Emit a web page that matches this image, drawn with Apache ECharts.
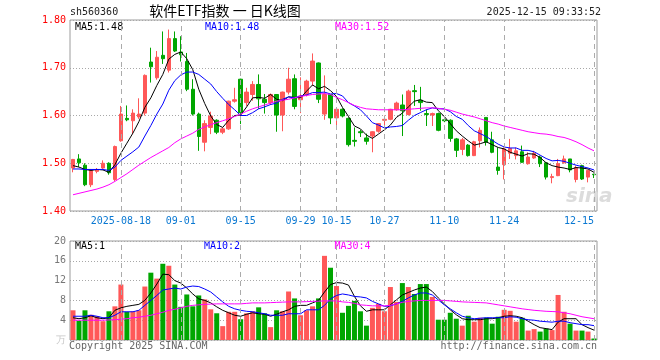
<!DOCTYPE html>
<html><head><meta charset="utf-8">
<script src="https://cdn.jsdelivr.net/npm/echarts@6/dist/echarts.min.js"></script>
<style>html,body{margin:0;padding:0;background:#fff}#c{width:660px;height:360px}</style>
</head><body><div id="c"></div>
<script>
// ---------- data ----------
const dates = [
'2025-08-06','2025-08-07','2025-08-08','2025-08-11','2025-08-12','2025-08-13','2025-08-14','2025-08-15','2025-08-18','2025-08-19',
'2025-08-20','2025-08-21','2025-08-22','2025-08-25','2025-08-26','2025-08-27','2025-08-28','2025-08-29','2025-09-01','2025-09-02',
'2025-09-03','2025-09-04','2025-09-05','2025-09-08','2025-09-09','2025-09-10','2025-09-11','2025-09-12','2025-09-15','2025-09-16',
'2025-09-17','2025-09-18','2025-09-19','2025-09-22','2025-09-23','2025-09-24','2025-09-25','2025-09-26','2025-09-29','2025-09-30',
'2025-10-09','2025-10-10','2025-10-13','2025-10-14','2025-10-15','2025-10-16','2025-10-17','2025-10-20','2025-10-21','2025-10-22',
'2025-10-23','2025-10-24','2025-10-27','2025-10-28','2025-10-29','2025-10-30','2025-10-31','2025-11-03','2025-11-04','2025-11-05',
'2025-11-06','2025-11-07','2025-11-10','2025-11-11','2025-11-12','2025-11-13','2025-11-14','2025-11-17','2025-11-18','2025-11-19',
'2025-11-20','2025-11-21','2025-11-24','2025-11-25','2025-11-26','2025-11-27','2025-11-28','2025-12-01','2025-12-02','2025-12-03',
'2025-12-04','2025-12-05','2025-12-08','2025-12-09','2025-12-10','2025-12-11','2025-12-12','2025-12-15'];

const opens = [
1.490,1.509,1.496,1.455,1.483,1.490,1.500,1.466,1.547,1.594,
1.589,1.597,1.605,1.712,1.679,1.726,1.695,1.761,1.733,1.713,
1.655,1.603,1.544,1.575,1.590,1.565,1.572,1.630,1.676,1.627,
1.644,1.665,1.634,1.627,1.644,1.601,1.649,1.677,1.633,1.644,
1.672,1.710,1.603,1.644,1.595,1.613,1.594,1.548,1.566,1.553,
1.557,1.567,1.590,1.592,1.612,1.622,1.602,1.652,1.632,1.604,
1.601,1.604,1.591,1.590,1.551,1.529,1.538,1.516,1.547,1.596,
1.549,1.492,1.497,1.521,1.516,1.524,1.499,1.511,1.513,1.501,
1.470,1.474,1.501,1.509,1.466,1.495,1.471,1.477];
const closes = [
1.508,1.501,1.455,1.485,1.487,1.500,1.480,1.535,1.603,1.591,
1.605,1.603,1.684,1.702,1.722,1.719,1.761,1.735,1.727,1.655,
1.603,1.556,1.583,1.599,1.565,1.572,1.630,1.633,1.606,1.649,
1.665,1.635,1.627,1.644,1.601,1.649,1.676,1.619,1.641,1.672,
1.714,1.634,1.644,1.595,1.613,1.599,1.539,1.546,1.564,1.546,
1.566,1.583,1.592,1.613,1.626,1.610,1.651,1.650,1.627,1.602,
1.604,1.569,1.589,1.552,1.527,1.549,1.516,1.545,1.569,1.544,
1.523,1.485,1.530,1.531,1.526,1.502,1.513,1.521,1.499,1.471,
1.472,1.499,1.509,1.486,1.491,1.467,1.485,1.476];
const highs = [
1.509,1.519,1.500,1.488,1.490,1.506,1.502,1.537,1.620,1.621,
1.613,1.636,1.686,1.742,1.735,1.776,1.780,1.776,1.766,1.731,
1.676,1.606,1.590,1.608,1.592,1.575,1.631,1.658,1.677,1.658,
1.672,1.686,1.645,1.646,1.645,1.650,1.700,1.686,1.680,1.675,
1.730,1.711,1.684,1.645,1.615,1.615,1.596,1.575,1.570,1.562,
1.567,1.584,1.600,1.614,1.629,1.644,1.654,1.664,1.660,1.613,
1.606,1.606,1.594,1.592,1.553,1.553,1.540,1.547,1.575,1.596,
1.566,1.533,1.533,1.551,1.533,1.537,1.523,1.526,1.516,1.501,
1.478,1.509,1.516,1.509,1.495,1.497,1.486,1.478];
const lows = [
1.481,1.492,1.452,1.450,1.479,1.488,1.476,1.462,1.545,1.588,
1.561,1.593,1.600,1.669,1.675,1.708,1.690,1.733,1.713,1.651,
1.600,1.526,1.525,1.561,1.561,1.561,1.570,1.627,1.582,1.620,
1.631,1.614,1.604,1.622,1.566,1.567,1.644,1.613,1.605,1.640,
1.662,1.626,1.591,1.582,1.573,1.596,1.535,1.535,1.555,1.539,
1.523,1.564,1.575,1.590,1.610,1.557,1.600,1.620,1.610,1.578,
1.578,1.567,1.586,1.545,1.513,1.517,1.514,1.515,1.533,1.537,
1.521,1.476,1.466,1.509,1.508,1.501,1.497,1.509,1.492,1.466,
1.458,1.473,1.499,1.481,1.460,1.465,1.460,1.469];

const ma5 = [
1.495,1.492,1.487,1.485,1.487,1.486,1.481,1.497,1.521,1.542,
1.563,1.587,1.617,1.637,1.663,1.686,1.718,1.728,1.733,1.719,
1.696,1.655,1.625,1.599,1.581,1.575,1.590,1.600,1.601,1.618,
1.637,1.638,1.636,1.644,1.634,1.631,1.639,1.638,1.637,1.651,
1.664,1.656,1.661,1.652,1.640,1.617,1.598,1.578,1.572,1.559,
1.552,1.561,1.570,1.580,1.596,1.605,1.618,1.630,1.633,1.628,
1.627,1.610,1.598,1.583,1.568,1.557,1.547,1.538,1.541,1.545,
1.539,1.533,1.530,1.523,1.519,1.515,1.520,1.519,1.512,1.501,
1.495,1.492,1.490,1.487,1.491,1.490,1.488,1.481];
const ma10 = [
1.488,1.488,1.487,1.487,1.487,1.487,1.485,1.492,1.506,1.515,
1.524,1.534,1.557,1.579,1.603,1.624,1.653,1.673,1.685,1.691,
1.691,1.686,1.676,1.666,1.650,1.636,1.623,1.612,1.600,1.600,
1.606,1.614,1.618,1.623,1.626,1.634,1.639,1.637,1.641,1.643,
1.648,1.648,1.649,1.645,1.646,1.641,1.627,1.620,1.612,1.599,
1.585,1.580,1.574,1.576,1.577,1.579,1.590,1.600,1.606,1.612,
1.616,1.614,1.614,1.608,1.598,1.592,1.579,1.568,1.562,1.556,
1.548,1.540,1.534,1.532,1.532,1.527,1.527,1.524,1.517,1.510,
1.505,1.506,1.504,1.500,1.496,1.493,1.490,1.486];
const ma30 = [
1.434,1.437,1.440,1.443,1.446,1.450,1.455,1.462,1.470,1.478,
1.487,1.496,1.504,1.512,1.519,1.526,1.533,1.543,1.551,1.557,
1.563,1.571,1.576,1.581,1.585,1.589,1.593,1.598,1.603,1.609,
1.614,1.618,1.622,1.626,1.630,1.632,1.634,1.637,1.640,1.642,
1.644,1.645,1.646,1.644,1.638,1.633,1.627,1.621,1.617,1.614,
1.613,1.612,1.612,1.612,1.612,1.612,1.613,1.614,1.615,1.616,
1.616,1.615,1.613,1.611,1.607,1.603,1.600,1.597,1.593,1.589,
1.585,1.582,1.578,1.575,1.572,1.569,1.566,1.564,1.562,1.561,
1.559,1.556,1.554,1.550,1.545,1.539,1.532,1.526];

const volumes = [
6.0,3.9,6.0,5.1,4.8,3.8,5.8,6.8,11.2,5.7,
5.8,6.0,10.8,13.6,12.4,15.4,15.0,11.2,6.7,9.2,
6.8,9.0,8.2,6.2,5.4,2.8,5.7,5.7,4.2,5.4,
5.8,6.6,5.4,2.6,6.0,5.8,9.8,8.4,5.0,6.0,
6.8,8.4,17.0,14.6,10.9,5.5,6.9,7.9,5.8,2.9,
6.5,7.3,5.8,10.7,7.7,11.5,10.7,9.3,11.3,11.3,
8.7,4.1,4.1,5.5,4.3,2.9,4.9,3.7,4.5,4.5,
3.3,4.7,6.1,5.9,3.7,4.5,1.9,2.2,1.7,2.3,
2.0,9.1,5.7,3.3,1.9,1.9,1.7,0.3];
const volMa5 = [
4.5,4.3,4.5,4.9,4.5,4.3,4.5,6.0,6.5,6.8,
7.0,7.2,8.0,9.5,11.3,13.3,13.2,12.0,11.5,10.5,
9.3,8.3,8.0,7.5,6.7,6.0,5.5,5.0,4.8,5.2,
5.5,5.3,5.2,4.8,5.2,5.7,6.1,6.8,7.0,7.0,
7.5,8.0,9.7,11.2,11.6,11.5,11.1,8.8,6.9,5.8,
6.1,6.1,6.1,7.1,8.1,9.1,9.6,10.1,10.5,10.7,
9.8,8.5,7.3,6.1,5.1,4.3,4.1,4.1,4.1,4.3,
4.3,4.5,4.8,4.9,4.8,4.5,3.8,3.1,2.5,2.3,
2.1,3.6,4.3,4.3,4.3,3.1,2.5,2.0];
const volMa10 = [
4.8,4.8,4.8,5.0,4.8,4.5,4.5,5.0,5.7,5.7,
5.7,6.0,7.0,8.0,9.0,10.1,10.3,10.5,10.3,10.7,
10.9,10.8,10.3,9.7,8.7,7.7,6.8,6.3,6.0,5.8,
5.7,5.5,5.3,5.0,5.0,5.0,5.3,5.3,5.3,6.1,
6.1,6.1,7.0,8.3,9.0,9.3,9.1,8.8,8.7,8.5,
7.8,7.3,6.8,6.9,7.3,7.8,8.5,9.1,9.5,9.5,
9.1,8.1,7.1,6.3,5.5,4.8,4.5,4.3,4.4,4.5,
4.5,4.5,4.5,4.7,4.6,4.3,4.1,4.0,3.8,3.7,
3.6,3.8,3.8,3.5,3.3,3.1,3.1,2.9];
const volMa30 = [
4.0,4.0,4.0,4.0,4.0,4.0,4.05,4.1,4.2,4.3,
4.5,4.6,4.8,5.0,5.3,5.6,6.0,6.2,6.5,6.8,
7.0,7.1,7.2,7.25,7.3,7.3,7.3,7.3,7.3,7.4,
7.5,7.5,7.5,7.55,7.6,7.65,7.7,7.7,7.7,7.75,
7.8,7.85,7.9,7.9,7.9,7.7,7.6,7.4,7.1,7.0,
6.9,6.9,6.9,7.0,7.3,7.6,7.8,7.9,8.0,8.0,
8.0,8.0,8.0,7.9,7.8,7.7,7.65,7.6,7.55,7.5,
7.3,7.1,6.9,6.7,6.5,6.3,6.15,6.0,5.9,5.8,
5.75,5.7,5.5,5.3,5.0,4.7,4.5,4.3];

const tickDates = ['2025-08-18','2025-09-01','2025-09-15','2025-09-29','2025-10-15','2025-10-27','2025-11-10','2025-11-24','2025-12-15'];
const tickLabels = ['2025-08-18','09-01','09-15','09-29','10-15','10-27','11-10','11-24','12-15'];

const headerCode = 'sh560360';
const headerTitle = '软件ETF指数 一 日K线图';
const headerTime = '2025-12-15 09:33:52';
const priceMaText = ['MA5:1.48', 'MA10:1.48', 'MA30:1.52'];
const volMaText = ['MA5:1', 'MA10:2', 'MA30:4'];
const footerLeft = 'Copyright 2025 SINA.COM';
const footerRight = 'http://finance.sina.com.cn';

// ---------- chart ----------
const UP = '#ff5858', DOWN = '#00a600';
const MA_COLORS = ['#000000', '#0000ff', '#ff00ff'];
const MONO = '"DejaVu Sans Mono", "Liberation Mono", monospace';
const CJK = '"Noto Sans CJK SC", sans-serif';

const candleData = dates.map((d, i) => [opens[i], closes[i], lows[i], highs[i]]);
const tickIdx = tickDates.map(d => dates.indexOf(d));
const isUp = i => closes[i] >= opens[i];

function vlines() {
  return {
    silent: true, symbol: ['none', 'none'], animation: false,
    label: { show: false }, emphasis: { disabled: true },
    lineStyle: { color: '#ababab', type: [5, 4], width: 1 },
    data: tickDates.map(d => ({ xAxis: d }))
  };
}
function maLine(data, color, xi, yi) {
  return {
    type: 'line', xAxisIndex: xi, yAxisIndex: yi, data: data,
    showSymbol: false, symbol: 'none', smooth: false, silent: true,
    lineStyle: { color: color, width: 1 }, itemStyle: { color: color },
    emphasis: { disabled: true }
  };
}
function txt(x, y, text, color, opt) {
  opt = opt || {};
  return {
    type: 'text', x: x, y: y, silent: true,
    style: {
      text: text, fill: color,
      fontFamily: opt.family || MONO, fontSize: opt.size || 10,
      fontWeight: opt.weight || 'normal', fontStyle: opt.style || 'normal',
      align: opt.align || 'left', verticalAlign: 'middle',
      textAlign: opt.align || 'left', textVerticalAlign: 'middle'
    }
  };
}

const gridStyle = { show: true, borderColor: '#9c9c9c', borderWidth: 1, backgroundColor: 'transparent' };

const option = {
  animation: false,
  backgroundColor: '#ffffff',
  grid: [
    Object.assign({ left: 70, right: 63, top: 20, height: 191 }, gridStyle),
    Object.assign({ left: 70, right: 63, top: 241, height: 99 }, gridStyle)
  ],
  xAxis: [
    {
      type: 'category', gridIndex: 0, data: dates, boundaryGap: true,
      axisLine: { show: false }, axisTick: { show: false }, splitLine: { show: false },
      axisLabel: {
        interval: (i) => tickIdx.indexOf(i) >= 0,
        formatter: (v) => tickLabels[tickDates.indexOf(v)],
        color: '#0a78d2', fontFamily: MONO, fontSize: 10, margin: 5,
        alignMaxLabel: 'right'
      }
    },
    {
      type: 'category', gridIndex: 1, data: dates, boundaryGap: true,
      axisLine: { show: false }, axisTick: { show: false }, splitLine: { show: false },
      axisLabel: { show: false }
    }
  ],
  yAxis: [
    {
      type: 'value', gridIndex: 0, min: 1.4, max: 1.8, interval: 0.1,
      axisLine: { show: false }, axisTick: { show: false },
      axisLabel: { color: '#ff0000', fontFamily: MONO, fontSize: 10, margin: 4, formatter: v => v.toFixed(2) },
      splitLine: { lineStyle: { color: '#a8a8a8', type: [1, 2], width: 1 } }
    },
    {
      type: 'value', gridIndex: 1, min: 0, max: 20, interval: 4,
      axisLine: { show: false }, axisTick: { show: false },
      axisLabel: {
        fontFamily: MONO, fontSize: 10, margin: 4,
        color: v => (v === 0 || v === '0') ? '#c8c8c8' : '#777777',
        formatter: v => v === 0 ? '万' : String(v)
      },
      splitLine: { lineStyle: { color: '#a8a8a8', type: [1, 2], width: 1 } }
    }
  ],
  series: [
    {
      type: 'candlestick', xAxisIndex: 0, yAxisIndex: 0, data: candleData,
      barWidth: 4, silent: true,
      itemStyle: { color: UP, color0: DOWN, borderColor: UP, borderColor0: DOWN, borderWidth: 1 },
      markLine: vlines()
    },
    maLine(ma5, MA_COLORS[0], 0, 0),
    maLine(ma10, MA_COLORS[1], 0, 0),
    maLine(ma30, MA_COLORS[2], 0, 0),
    {
      type: 'bar', xAxisIndex: 1, yAxisIndex: 1, data: volumes, barWidth: 5, silent: true,
      itemStyle: { color: p => isUp(p.dataIndex) ? UP : DOWN },
      markLine: vlines()
    },
    maLine(volMa5, MA_COLORS[0], 1, 1),
    maLine(volMa10, MA_COLORS[1], 1, 1),
    maLine(volMa30, MA_COLORS[2], 1, 1)
  ],
  graphic: [
    txt(70, 12, headerCode, '#222'),
    txt(225, 11, headerTitle, '#000', { family: CJK, size: 14, align: 'center' }),
    txt(601, 12, headerTime, '#222', { align: 'right' }),
    txt(75, 27, priceMaText[0], MA_COLORS[0]),
    txt(205, 27, priceMaText[1], MA_COLORS[1]),
    txt(335, 27, priceMaText[2], MA_COLORS[2]),
    txt(75, 246, volMaText[0], MA_COLORS[0]),
    txt(204, 246, volMaText[1], MA_COLORS[1]),
    txt(334.5, 246, volMaText[2], MA_COLORS[2]),
    txt(69, 346, footerLeft, '#666'),
    txt(597, 346, footerRight, '#666', { align: 'right' }),
    txt(566, 197, 'sina', '#dcdcdc', { family: '"DejaVu Sans", sans-serif', size: 20, weight: 'bold', style: 'italic' })
  ]
};

const chart = echarts.init(document.getElementById('c'), null, { renderer: 'canvas' });
chart.setOption(option);
</script>
</body></html>
